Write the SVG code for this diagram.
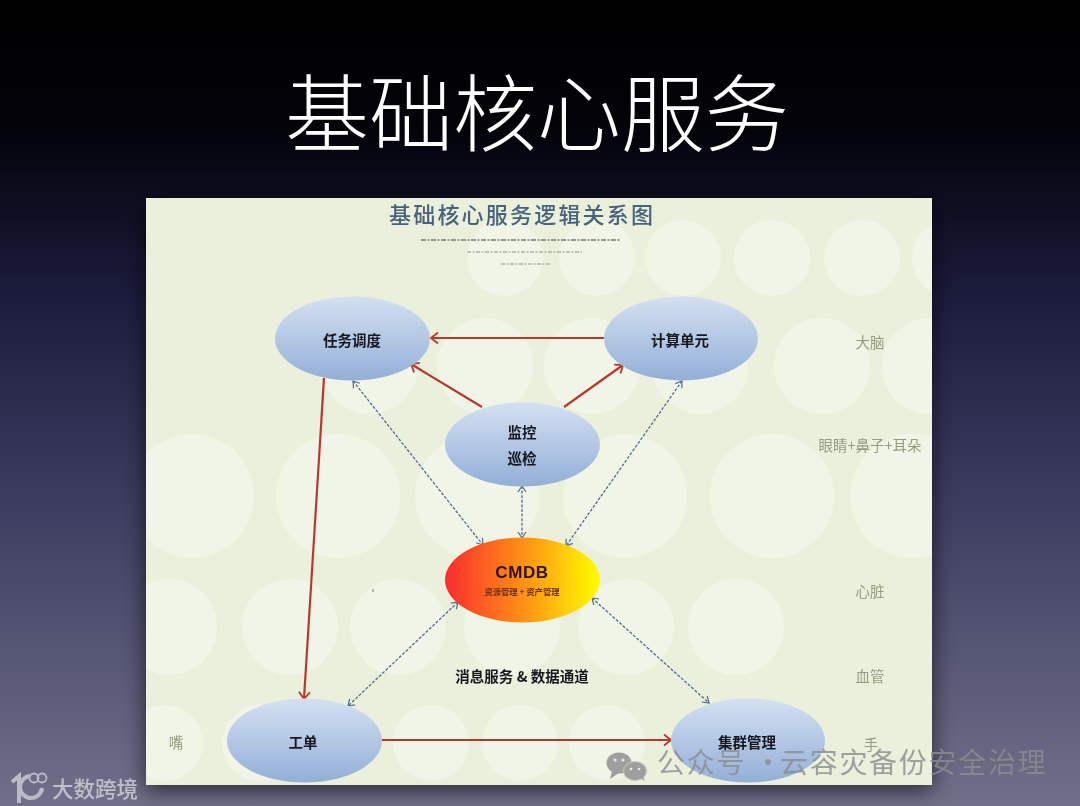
<svg xmlns="http://www.w3.org/2000/svg" width="1080" height="806" viewBox="0 0 1080 806">
<style>
text{font-family:"Noto Sans CJK SC","Liberation Sans",sans-serif}
.n{font-size:14.5px;font-weight:700;fill:#14181f;text-anchor:middle;dominant-baseline:central}
.s{font-size:14.5px;fill:#959c7e;text-anchor:middle;dominant-baseline:central}
.c{fill:#f1f5e7}
.red{fill:none;stroke:#b9392f;stroke-width:2.2;marker-end:url(#ra)}
.blue{fill:none;stroke:#4f6d8c;stroke-width:1.3;stroke-dasharray:3 1.6;marker-start:url(#ba);marker-end:url(#ba)}
.dash{stroke:#6d7c7e;fill:none}
</style>
<defs>
<linearGradient id="bg" x1="0" y1="0" x2="0" y2="1">
<stop offset="0" stop-color="#000"/><stop offset=".16" stop-color="#03030a"/><stop offset=".37" stop-color="#1c1c3e"/><stop offset=".62" stop-color="#3c3c60"/><stop offset="1" stop-color="#70708a"/>
</linearGradient>
<linearGradient id="blue" x1="0" y1="0" x2="0" y2="1"><stop offset="0" stop-color="#d4e0f1"/><stop offset="1" stop-color="#93afd7"/></linearGradient>
<linearGradient id="fire" x1="0" y1="0" x2="1" y2="0"><stop offset="0" stop-color="#fa2c2f"/><stop offset=".55" stop-color="#ff9a12"/><stop offset="1" stop-color="#ffff00"/></linearGradient>
<marker id="ra" markerUnits="userSpaceOnUse" markerWidth="14" markerHeight="14" refX="11" refY="7" orient="auto"><path d="M4 1.5L11 7L4 12.5" fill="none" stroke="#b9392f" stroke-width="1.8"/></marker>
<marker id="ba" markerUnits="userSpaceOnUse" markerWidth="12" markerHeight="12" refX="10" refY="6" orient="auto-start-reverse"><path d="M4 2L10 6L4 10" fill="none" stroke="#4f6d8c" stroke-width="1.2"/></marker>
<filter id="sh" x="-10%" y="-10%" width="120%" height="120%"><feDropShadow dx="0" dy="5" stdDeviation="11" flood-color="#000" flood-opacity=".65"/></filter>
<filter id="bl" x="-2%" y="-2%" width="104%" height="104%"><feGaussianBlur stdDeviation=".55"/></filter>
<clipPath id="sl"><rect x="146" y="198" width="786" height="587"/></clipPath>
</defs>
<rect width="1080" height="806" fill="url(#bg)"/>
<text x="285" y="145" font-size="84" font-weight="300" fill="#fff">基础核心服务</text>
<rect x="146" y="198" width="786" height="587" fill="#ebf0dc" filter="url(#sh)"/>
<g id="backdrop" clip-path="url(#sl)">
<circle class="c" cx="505" cy="258" r="38"/><circle class="c" cx="597" cy="258" r="38"/><circle class="c" cx="683" cy="258" r="38"/><circle class="c" cx="772" cy="258" r="38"/><circle class="c" cx="862" cy="258" r="38"/><circle class="c" cx="950" cy="258" r="38"/>
<circle class="c" cx="370" cy="366" r="48"/><circle class="c" cx="485" cy="366" r="48"/><circle class="c" cx="592" cy="366" r="48"/><circle class="c" cx="700" cy="366" r="48"/><circle class="c" cx="822" cy="366" r="48"/><circle class="c" cx="930" cy="366" r="48"/>
<circle class="c" cx="192" cy="496" r="62"/><circle class="c" cx="338" cy="496" r="62"/><circle class="c" cx="477" cy="496" r="62"/><circle class="c" cx="625" cy="496" r="62"/><circle class="c" cx="772" cy="496" r="62"/><circle class="c" cx="912" cy="496" r="62"/>
<circle class="c" cx="169" cy="627" r="48"/><circle class="c" cx="290" cy="627" r="48"/><circle class="c" cx="398" cy="627" r="48"/><circle class="c" cx="512" cy="627" r="48"/><circle class="c" cx="626" cy="627" r="48"/><circle class="c" cx="736" cy="627" r="48"/>
<circle class="c" cx="165" cy="743" r="38"/><circle class="c" cx="260" cy="743" r="38"/><circle class="c" cx="431" cy="743" r="38"/><circle class="c" cx="520" cy="743" r="38"/><circle class="c" cx="607" cy="743" r="38"/>
</g>
<g filter="url(#bl)">
<g id="heading">
<text x="389" y="223" font-size="22" letter-spacing="2.2" font-weight="500" fill="#47627a">基础核心服务逻辑关系图</text>
<path class="dash" stroke-width="1.3" stroke-dasharray="5 1.5 2 1.5" d="M421 240H620"/>
<path class="dash" stroke-width="1" stroke-dasharray="4 1.5 2 1.5" opacity=".8" d="M467 252H582"/>
<path class="dash" stroke-width="1" stroke-dasharray="4 1.5 2 1.5" opacity=".8" d="M501 264H550"/>
</g>
<g id="connectors">
<path class="red" d="M604 338H431"/>
<path class="red" d="M482 407L411 364"/>
<path class="red" d="M564 407L623 365"/>
<path class="red" stroke-width="2" d="M324 378L304 699"/>
<path class="red" d="M382 740H671"/>
<path class="blue" d="M353 381L483 545"/>
<path class="blue" d="M682 381L566 546"/>
<path class="blue" d="M522 486V538"/>
<path class="blue" d="M458 602L348 706"/>
<path class="blue" d="M592 598L709 703"/>
</g>
<g id="node-task"><ellipse cx="352.500" cy="338.500" rx="77.500" ry="42" fill="url(#blue)"/><text class="n" x="352" y="339">任务调度</text></g>
<g id="node-compute"><ellipse cx="681" cy="338.500" rx="77" ry="42" fill="url(#blue)"/><text class="n" x="680" y="339">计算单元</text></g>
<g id="node-monitor"><ellipse cx="522.500" cy="444.500" rx="77.500" ry="42" fill="url(#blue)"/><text class="n" x="522" y="431">监控</text><text class="n" x="522" y="457">巡检</text></g>
<g id="node-cmdb"><ellipse cx="522.500" cy="580" rx="77.500" ry="42.500" fill="url(#fire)"/><text x="522" y="578" font-size="17" font-weight="700" letter-spacing=".6" text-anchor="middle" fill="#2a1208" style="font-family:'Liberation Sans',sans-serif">CMDB</text><text x="522" y="591" font-size="8.300" font-weight="700" text-anchor="middle" dominant-baseline="central" fill="#70301a">资源管理 + 资产管理</text></g>
<g id="node-ticket"><ellipse cx="304.500" cy="740.500" rx="77.500" ry="42" fill="url(#blue)"/><text class="n" x="303" y="741">工单</text></g>
<g id="node-cluster"><ellipse cx="748" cy="740.500" rx="77" ry="42" fill="url(#blue)"/><text class="n" x="747" y="741">集群管理</text></g>
<g id="labels">
<text x="522" y="675" font-size="14.500" font-weight="700" text-anchor="middle" dominant-baseline="central" fill="#14181f">消息服务 &amp; 数据通道</text>
<text class="s" x="870" y="341">大脑</text>
<text class="s" x="870" y="444">眼睛+鼻子+耳朵</text>
<text class="s" x="870" y="590">心脏</text>
<text class="s" x="870" y="675">血管</text>
<text class="s" x="871" y="743">手</text>
<text class="s" x="176" y="741">嘴</text>
<path d="M373 589V592" stroke="#777" stroke-width="1"/>
</g>
</g>
<g id="watermark-left" fill="none" stroke="#c4c4ce" opacity=".9">
<path d="M12 782L19 776V803" stroke-width="4"/>
<path d="M42 788A11 11 0 1 1 30 776" stroke-width="4"/>
<circle cx="34" cy="778" r="4.500" stroke-width="1.800"/><circle cx="42" cy="778" r="4.500" stroke-width="1.800"/>
<text x="52" y="797" font-size="21.500" stroke="none" fill="#c8c8d2" font-weight="500">大数跨境</text>
</g>
<g id="watermark-right" opacity=".82">
<ellipse cx="619" cy="763" rx="12.500" ry="10.500" fill="#8d8d8d"/><path d="M612 771L610 779L619 773Z" fill="#8d8d8d"/>
<ellipse cx="635" cy="771" rx="11.500" ry="9.500" fill="#8d8d8d" stroke="#c0c0c0" stroke-width="1"/><path d="M640 778L645 781L642 774Z" fill="#8d8d8d"/>
<circle cx="615" cy="760" r="1.500" fill="#e8e8e8"/><circle cx="623" cy="760" r="1.500" fill="#e8e8e8"/><circle cx="631" cy="769" r="1.300" fill="#e8e8e8"/><circle cx="639" cy="769" r="1.300" fill="#e8e8e8"/>
<text y="773" font-size="28" letter-spacing="1.700" fill="#8b8d90"><tspan x="657">公众号</tspan><tspan x="754">·</tspan><tspan x="780">云容灾备份安全治理</tspan></text>
</g>
</svg>
